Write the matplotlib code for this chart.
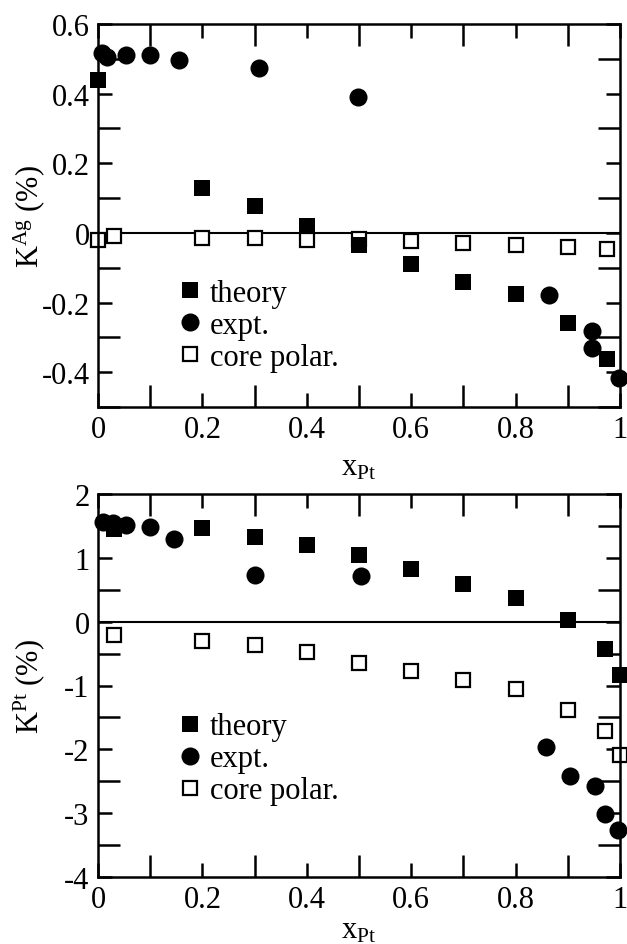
import matplotlib
matplotlib.use("Agg")
import matplotlib.pyplot as plt
from matplotlib.ticker import MultipleLocator, FuncFormatter

plt.rcParams['font.family'] = ['Liberation Serif', 'DejaVu Serif']
plt.rcParams['mathtext.fontset'] = 'custom'
plt.rcParams['mathtext.rm'] = 'Liberation Serif'
plt.rcParams['mathtext.it'] = 'Liberation Serif:italic'
plt.rcParams['axes.unicode_minus'] = False

# ---- Top panel data (K^Ag) ----
ag_theory_x = [0.0, 0.2, 0.3, 0.4, 0.5, 0.6, 0.7, 0.8, 0.9, 0.975]
ag_theory_y = [0.438, 0.129, 0.076, 0.019, -0.035, -0.089, -0.14, -0.176, -0.259, -0.362]
ag_expt_x = [0.007, 0.018, 0.053, 0.10, 0.156, 0.308, 0.498, 0.864, 0.947, 0.947, 0.998]
ag_expt_y = [0.517, 0.505, 0.51, 0.51, 0.497, 0.473, 0.389, -0.179, -0.281, -0.330, -0.417]
ag_core_x = [0.0, 0.03, 0.2, 0.3, 0.4, 0.5, 0.6, 0.7, 0.8, 0.9, 0.975]
ag_core_y = [-0.021, -0.009, -0.014, -0.016, -0.019, -0.017, -0.024, -0.029, -0.035, -0.041, -0.046]

# ---- Bottom panel data (K^Pt) ----
pt_theory_x = [0.031, 0.2, 0.3, 0.4, 0.5, 0.6, 0.7, 0.8, 0.9, 0.972, 1.0]
pt_theory_y = [1.45, 1.46, 1.33, 1.20, 1.04, 0.825, 0.59, 0.376, 0.03, -0.43, -0.83]
pt_expt_x = [0.009, 0.028, 0.053, 0.10, 0.145, 0.30, 0.504, 0.859, 0.905, 0.952, 0.972, 0.996]
pt_expt_y = [1.556, 1.545, 1.51, 1.49, 1.295, 0.73, 0.72, -1.96, -2.41, -2.57, -3.02, -3.27]
pt_core_x = [0.031, 0.2, 0.3, 0.4, 0.5, 0.6, 0.7, 0.8, 0.9, 0.972, 1.0]
pt_core_y = [-0.21, -0.30, -0.36, -0.48, -0.65, -0.78, -0.92, -1.05, -1.38, -1.72, -2.09]

labels = ["theory", "expt.", "core polar."]

fig = plt.figure(figsize=(6.27, 9.45), dpi=100)
W, H = 627, 945
def ax_rect(l, r, t, b):
    return [l / W, (H - b) / H, (r - l) / W, (b - t) / H]

ax1 = fig.add_axes(ax_rect(98, 620, 25, 408))
ax2 = fig.add_axes(ax_rect(98, 620, 495, 878))

fmt = FuncFormatter(lambda v, p: ('%g' % round(v, 6)))

def style(ax, ylim, ymaj, ymin, ylabel, legend_anchor, xlabelpad):
    ax.set_xlim(0, 1)
    ax.set_ylim(*ylim)
    ax.xaxis.set_major_locator(MultipleLocator(0.2))
    ax.xaxis.set_minor_locator(MultipleLocator(0.1))
    ax.yaxis.set_major_locator(MultipleLocator(ymaj))
    ax.yaxis.set_minor_locator(MultipleLocator(ymin))
    ax.xaxis.set_major_formatter(fmt)
    ax.yaxis.set_major_formatter(fmt)
    ax.tick_params(which='both', direction='in', top=True, right=True, width=1.8, color='black')
    ax.tick_params(which='major', length=10, labelsize=22, pad=6)
    ax.tick_params(which='minor', length=16)
    for s in ax.spines.values():
        s.set_linewidth(1.8)
    ax.axhline(0, color='black', lw=1.5, zorder=1)
    ax.set_xlabel(r'x$_{\mathregular{Pt}}$', fontsize=22, labelpad=xlabelpad)
    ax.set_ylabel(ylabel, fontsize=22)
    ax.yaxis.set_label_coords(-0.097, 0.5)
    leg = ax.legend(loc='upper left', bbox_to_anchor=legend_anchor, frameon=False,
                    fontsize=22, handletextpad=0.1, labelspacing=0.1,
                    borderpad=0, handlelength=1.1, markerscale=1.0)
    return leg

def plot_panel(ax, tx, ty, ex, ey, cx, cy):
    ax.plot(tx, ty, 's', color='black', markersize=11.5, markeredgewidth=0, label=labels[0], zorder=3, clip_on=False)
    ax.plot(ex, ey, 'o', color='black', markersize=13, markeredgewidth=0, label=labels[1], zorder=4, clip_on=False)
    ax.plot(cx, cy, 's', markerfacecolor='white', markeredgecolor='black', markersize=10.5,
            markeredgewidth=1.6, label=labels[2], zorder=2, clip_on=False)

plot_panel(ax1, ag_theory_x, ag_theory_y, ag_expt_x, ag_expt_y, ag_core_x, ag_core_y)
plot_panel(ax2, pt_theory_x, pt_theory_y, pt_expt_x, pt_expt_y, pt_core_x, pt_core_y)

style(ax1, (-0.5, 0.6), 0.2, 0.1, r'K$^{\mathregular{Ag}}$ (%)', (0.115, 0.375), 6)
style(ax2, (-4, 2), 1, 0.5, r'K$^{\mathregular{Pt}}$ (%)', (0.115, 0.47), 1)

fig.savefig('out.png', dpi=100)
